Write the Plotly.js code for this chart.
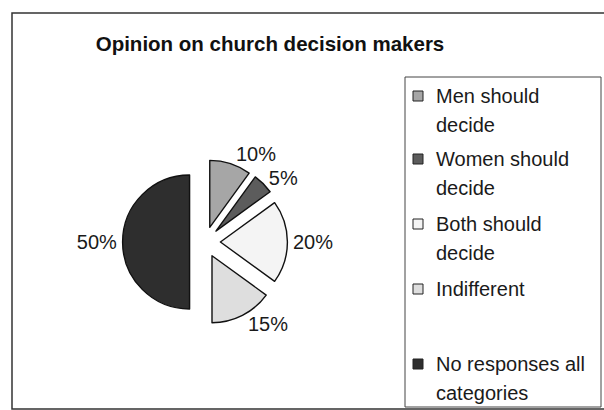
<!DOCTYPE html>
<html>
<head>
<meta charset="utf-8">
<script src="https://cdn.plot.ly/plotly-3.0.1.min.js"></script>
<style>html,body{margin:0;padding:0;background:#fff;}#chart{width:604px;height:410px;}</style>
</head>
<body>
<div id="chart"></div>
<script>
// ---- data ----
const categories = ["Men should<br>decide", "Women should<br>decide", "Both should<br>decide", "Indifferent", "No responses all<br>categories"];
const values = [10, 5, 20, 15, 50];
const chartTitle = "Opinion on church decision makers";

// ---- styles ----
const sliceColors = ["#a6a6a6", "#5c5c5c", "#f4f4f4", "#dedede", "#2e2e2e"];
const FONT = "Liberation Sans, Arial, sans-serif";
const W = 604, H = 410;
const px = x => x / W;
const py = y => 1 - y / H;

// pie geometry: center (205,242), radius 67, pull 0.23
const pull = 0.23;
const R = 67, cx = 205, cy = 242;
const half = R * (1 + pull);

const trace = {
  type: "pie",
  labels: categories,
  values: values,
  sort: false,
  direction: "clockwise",
  rotation: 0,
  pull: values.map(() => pull),
  marker: { colors: sliceColors, line: { color: "#111", width: 1.4 } },
  textinfo: "percent",
  texttemplate: "%{percent:.0%}",
  textposition: "outside",
  outsidetextfont: { family: FONT, size: 20, color: "#1a1a1a" },
  showlegend: false,
  hoverinfo: "label+percent",
  domain: { x: [px(cx - half), px(cx + half)], y: [py(cy + half), py(cy - half)] }
};

// manual legend built from categories/colors
const legendRowY = [96, 159, 224, 289, 364];
const lineGap = 29;
const shapes = [
  { type: "rect", xref: "paper", yref: "paper", x0: px(12), x1: px(606), y0: py(409), y1: py(13),
    line: { color: "#333", width: 1.5 }, fillcolor: "rgba(0,0,0,0)" },
  { type: "rect", xref: "paper", yref: "paper", x0: px(405), x1: px(601), y0: py(407), y1: py(77),
    line: { color: "#444", width: 1 }, fillcolor: "rgba(0,0,0,0)" }
];
const annotations = [];
categories.forEach((c, i) => {
  const y0 = legendRowY[i];
  shapes.push({ type: "rect", xref: "paper", yref: "paper",
    x0: px(413), x1: px(423), y0: py(y0 + 5), y1: py(y0 - 5),
    fillcolor: sliceColors[i], line: { color: "#222", width: 1 } });
  c.split("<br>").forEach((line, j) => {
    annotations.push({ xref: "paper", yref: "paper", x: px(434), y: py(y0 + j * lineGap),
      xanchor: "left", yanchor: "middle", showarrow: false, text: line,
      font: { family: FONT, size: 20, color: "#1a1a1a" } });
  });
});

const layout = {
  width: W, height: H,
  margin: { l: 0, r: 0, t: 0, b: 0 },
  paper_bgcolor: "#ffffff",
  plot_bgcolor: "#ffffff",
  title: { text: "<b>" + chartTitle + "</b>", x: px(270), xanchor: "center", xref: "paper",
    y: py(44), yanchor: "middle", yref: "paper",
    font: { family: FONT, size: 20.5, color: "#111" } },
  shapes: shapes,
  annotations: annotations,
  showlegend: false
};

Plotly.newPlot("chart", [trace], layout, { displayModeBar: false, staticPlot: true });
</script>
</body>
</html>
